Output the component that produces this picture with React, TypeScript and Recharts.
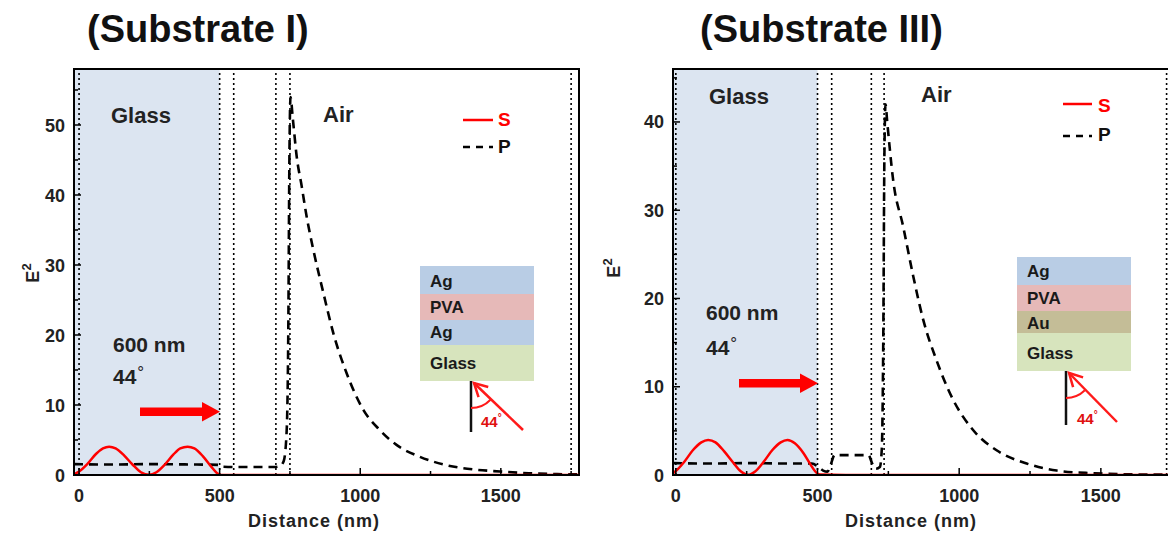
import React from 'react';
import { LineChart, Line, XAxis, YAxis, ReferenceLine, ReferenceArea } from 'recharts';

// ---------- data ----------
const sLeftX = [-18, 0, 30, 60, 85, 107, 130, 160, 190, 220, 249, 275, 305, 335, 360, 386, 410, 440, 470, 490, 505, 600, 1778];
const sLeftY = [0.1, 0.5, 1.6, 3.0, 3.8, 4.05, 3.8, 2.8, 1.5, 0.4, 0.02, 0.4, 1.5, 2.9, 3.8, 4.05, 3.8, 2.7, 1.2, 0.3, 0, 0, 0];

const pLeftX = [-18, 100, 250, 400, 495, 505, 550, 700, 715, 728, 738, 744, 748, 752, 760, 774, 792, 809, 833, 869, 904, 952, 1011, 1070, 1129, 1212, 1307, 1402, 1497, 1600, 1700, 1778];
const pLeftY = [1.55, 1.5, 1.55, 1.5, 1.45, 1.2, 1.15, 1.15, 1.3, 2.0, 6, 20, 45, 54, 51, 45.5, 41.2, 37, 32.2, 26, 20.3, 14.5, 9.3, 6.4, 4.3, 2.6, 1.4, 0.8, 0.5, 0.25, 0.12, 0.08];

const sRightX = [-10, 0, 30, 60, 90, 114, 140, 170, 200, 230, 255, 280, 310, 340, 370, 394, 420, 450, 475, 495, 510, 600, 1744];
const sRightY = [0.2, 0.45, 1.5, 2.8, 3.7, 3.97, 3.7, 2.7, 1.5, 0.4, 0.02, 0.4, 1.5, 2.8, 3.7, 3.97, 3.6, 2.5, 1.2, 0.3, 0.05, 0, 0];

const pRightX = [-10, 120, 250, 380, 480, 500, 520, 535, 547, 560, 620, 680, 693, 706, 720, 727, 732, 736, 740, 746, 767, 802, 838, 873, 920, 979, 1049, 1132, 1238, 1344, 1473, 1600, 1744];
const pRightY = [1.35, 1.3, 1.35, 1.3, 1.3, 1.0, 0.5, 0.38, 1.2, 2.25, 2.25, 2.25, 1.3, 0.7, 0.9, 3, 15, 36, 42, 40, 33.4, 28.2, 22.5, 17.6, 13, 8.5, 5.1, 2.8, 1.3, 0.5, 0.2, 0.08, 0.04];

const leftBoundaries = [0, 500, 550, 700, 750, 1750];
const rightBoundaries = [0, 500, 550, 690, 735, 1732];

const xTicks = [0, 250, 500, 750, 1000, 1250, 1500, 1750];
const xMajor = [0, 500, 1000, 1500];
const yTicksLeft = [0, 5, 10, 15, 20, 25, 30, 35, 40, 45, 50, 55];
const yTicksRight = [0, 5, 10, 15, 20, 25, 30, 35, 40, 45];
const yMajorStep = 10;

const leftXDomain: [number, number] = [-18, 1778];
const rightXDomain: [number, number] = [-10, 1744];
const leftYDomain: [number, number] = [0, 58];
const rightYDomain: [number, number] = [0, 46];

const FONT = '"Liberation Sans", Arial, Helvetica, sans-serif';

const toPts = (xs: number[], ys: number[]) => xs.map((x, i) => ({ x, v: ys[i] }));

const XTick = (props: any) => {
  const { x, y, payload } = props;
  const v = payload.value;
  const major = xMajor.includes(v);
  return (
    <g>
      <line x1={x} x2={x} y1={y} y2={y - (major ? 7 : 4)} stroke="#000" strokeWidth={1.5} />
      {major && (
        <text x={x} y={y + 27} textAnchor="middle" fontFamily={FONT} fontWeight="bold" fontSize={18} fill="#222">
          {v}
        </text>
      )}
    </g>
  );
};

const YTick = (props: any) => {
  const { x, y, payload } = props;
  const v = payload.value;
  const major = v % yMajorStep === 0;
  return (
    <g>
      <line x1={x} x2={x + (major ? 7 : 4)} y1={y} y2={y} stroke="#000" strokeWidth={1.5} />
      {major && (
        <text x={x - 9} y={y + 6.5} textAnchor="end" fontFamily={FONT} fontWeight="bold" fontSize={18} fill="#222">
          {v}
        </text>
      )}
    </g>
  );
};

type PanelProps = {
  width: number;
  marginLeft: number;
  marginRight: number;
  xDomain: [number, number];
  yDomain: [number, number];
  yTicks: number[];
  s: { x: number; v: number }[];
  p: { x: number; v: number }[];
  boundaries: number[];
};

const Panel = ({ width, marginLeft, marginRight, xDomain, yDomain, yTicks, s, p, boundaries }: PanelProps) => (
  <LineChart width={width} height={533} margin={{ top: 69, right: marginRight, bottom: 0, left: marginLeft }}>
    <XAxis
      dataKey="x"
      type="number"
      domain={xDomain}
      allowDataOverflow
      ticks={xTicks}
      interval={0}
      height={58}
      tickSize={0}
      tickMargin={0}
      tickLine={false}
      tick={<XTick />}
      axisLine={{ stroke: '#000', strokeWidth: 2 }}
    />
    <YAxis
      type="number"
      domain={yDomain}
      allowDataOverflow
      ticks={yTicks}
      interval={0}
      width={60}
      tickSize={0}
      tickMargin={0}
      tickLine={false}
      tick={<YTick />}
      axisLine={{ stroke: '#000', strokeWidth: 2 }}
    />
    <ReferenceArea x1={xDomain[0]} x2={500} y1={yDomain[0]} y2={yDomain[1]} fill="#dce5f1" fillOpacity={1} stroke="none" />
    {boundaries.map((b) => (
      <ReferenceLine key={b} x={b} stroke="#000" strokeWidth={1.6} strokeDasharray="2 3" />
    ))}
    <Line data={p} dataKey="v" type="monotone" stroke="#000" strokeWidth={2.6} strokeDasharray="9 6" dot={false} isAnimationActive={false} />
    <Line data={s} dataKey="v" type="monotone" stroke="#ff0000" strokeWidth={2.5} dot={false} isAnimationActive={false} />
    <ReferenceArea x1={xDomain[0]} x2={xDomain[1]} y1={yDomain[0]} y2={yDomain[1]} fill="none" stroke="#000" strokeWidth={2} />
  </LineChart>
);

const Inset = ({ x, y, layers, vx, vTop, vBottom, ax, ay, tx, ty }: any) => {
  let cy = y;
  const rects = layers.map((l: any, i: number) => {
    const r = (
      <g key={i}>
        <rect x={x} y={cy} width={114} height={l.h} fill={l.color} />
        <text x={x + 10} y={cy + l.base} fontFamily={FONT} fontWeight="bold" fontSize={17} fill="#1a1a1a">
          {l.label}
        </text>
      </g>
    );
    cy += l.h;
    return r;
  });
  const hx = vx + 3;
  const hy = vTop + 2;
  const dx = hx - ax;
  const dy = hy - ay;
  const len = Math.hypot(dx, dy);
  const ux = dx / len;
  const uy = dy / len;
  const hl = 13;
  const hw = 7;
  const b1x = hx - ux * hl - uy * hw;
  const b1y = hy - uy * hl + ux * hw;
  const b2x = hx - ux * hl + uy * hw;
  const b2y = hy - uy * hl - ux * hw;
  const r = 27;
  const ang = Math.atan2(-dx, -dy);
  const ex = vx + r * Math.sin(Math.abs(ang));
  const ey = vTop + r * Math.cos(Math.abs(ang));
  return (
    <g>
      {rects}
      <line x1={vx} x2={vx} y1={vTop} y2={vBottom} stroke="#111" strokeWidth={2.5} />
      <line x1={ax} y1={ay} x2={hx} y2={hy} stroke="#ff1a1a" strokeWidth={2.5} />
      <polyline points={`${b1x},${b1y} ${hx},${hy} ${b2x},${b2y}`} fill="none" stroke="#ff1a1a" strokeWidth={2.5} />
      <path d={`M ${vx} ${vTop + r} A ${r} ${r} 0 0 0 ${ex} ${ey}`} fill="none" stroke="#ff1a1a" strokeWidth={2} />
      <text x={tx} y={ty} fontFamily={FONT} fontWeight="bold" fontSize={15} fill="#e01010">
        44<tspan fontSize={10} dy={-6}>°</tspan>
      </text>
    </g>
  );
};

const Overlay = () => (
  <svg width={1168} height={533} style={{ position: 'absolute', left: 0, top: 0, pointerEvents: 'none' }}>
    <text x={87} y={42} fontFamily={FONT} fontWeight="bold" fontSize={38} fill="#111">(Substrate I)</text>
    <text x={700} y={42} fontFamily={FONT} fontWeight="bold" fontSize={38} fill="#111">(Substrate III)</text>

    <g transform="translate(39,273) rotate(-90)">
      <text x={0} y={0} textAnchor="middle" fontFamily={FONT} fontWeight="bold" fontSize={18} fill="#222">
        E<tspan fontSize={13} dy={-8}>2</tspan>
      </text>
    </g>
    <g transform="translate(620,268) rotate(-90)">
      <text x={0} y={0} textAnchor="middle" fontFamily={FONT} fontWeight="bold" fontSize={18} fill="#222">
        E<tspan fontSize={13} dy={-8}>2</tspan>
      </text>
    </g>
    <text x={314} y={527} textAnchor="middle" fontFamily={FONT} fontWeight="bold" fontSize={18} letterSpacing={1} fill="#222">Distance (nm)</text>
    <text x={911} y={527} textAnchor="middle" fontFamily={FONT} fontWeight="bold" fontSize={18} letterSpacing={1} fill="#222">Distance (nm)</text>

    <text x={111} y={123} fontFamily={FONT} fontWeight="bold" fontSize={22} fill="#222">Glass</text>
    <text x={323} y={122} fontFamily={FONT} fontWeight="bold" fontSize={22} fill="#222">Air</text>
    <text x={709} y={104} fontFamily={FONT} fontWeight="bold" fontSize={22} fill="#222">Glass</text>
    <text x={921} y={102} fontFamily={FONT} fontWeight="bold" fontSize={22} fill="#222">Air</text>

    <text x={113} y={352} fontFamily={FONT} fontWeight="bold" fontSize={21} fill="#222">600 nm</text>
    <text x={113} y={384} fontFamily={FONT} fontWeight="bold" fontSize={21} fill="#222">
      44<tspan fontWeight="normal" fontSize={17} dx={1} dy={-6}>°</tspan>
    </text>
    <text x={706} y={320} fontFamily={FONT} fontWeight="bold" fontSize={21} fill="#222">600 nm</text>
    <text x={706} y={355} fontFamily={FONT} fontWeight="bold" fontSize={21} fill="#222">
      44<tspan fontWeight="normal" fontSize={17} dx={1} dy={-6}>°</tspan>
    </text>

    <line x1={463} x2={493} y1={120} y2={120} stroke="#ff0000" strokeWidth={2.5} />
    <text x={498} y={126} fontFamily={FONT} fontWeight="bold" fontSize={19} fill="#ff0000">S</text>
    <line x1={463} x2={493} y1={147} y2={147} stroke="#000" strokeWidth={2.5} strokeDasharray="7 6" />
    <text x={498} y={153} fontFamily={FONT} fontWeight="bold" fontSize={19} fill="#111">P</text>

    <line x1={1063} x2={1092} y1={104} y2={104} stroke="#ff0000" strokeWidth={2.5} />
    <text x={1098} y={112} fontFamily={FONT} fontWeight="bold" fontSize={19} fill="#ff0000">S</text>
    <line x1={1063} x2={1092} y1={136} y2={136} stroke="#000" strokeWidth={2.5} strokeDasharray="7 6" />
    <text x={1098} y={141} fontFamily={FONT} fontWeight="bold" fontSize={19} fill="#111">P</text>

    <rect x={140} y={407.5} width={64} height={8.5} fill="#ff0000" />
    <polygon points="202,402 220,411.7 202,421.5" fill="#ff0000" />
    <rect x={739} y={379} width={63} height={8.5} fill="#ff0000" />
    <polygon points="800,373.5 818,383.2 800,393" fill="#ff0000" />

    <Inset
      x={420}
      y={266}
      layers={[
        { label: 'Ag', color: '#b9cde5', h: 28, base: 21 },
        { label: 'PVA', color: '#e6b9b8', h: 26, base: 19 },
        { label: 'Ag', color: '#b9cde5', h: 25, base: 18 },
        { label: 'Glass', color: '#d7e4bd', h: 36, base: 24 },
      ]}
      vx={471}
      vTop={381}
      vBottom={432}
      ax={523}
      ay={430}
      tx={481}
      ty={427}
    />
    <Inset
      x={1017}
      y={257}
      layers={[
        { label: 'Ag', color: '#b9cde5', h: 28, base: 20 },
        { label: 'PVA', color: '#e6b9b8', h: 26, base: 19 },
        { label: 'Au', color: '#c4bd97', h: 22, base: 18 },
        { label: 'Glass', color: '#d7e4bd', h: 38, base: 26 },
      ]}
      vx={1066}
      vTop={371}
      vBottom={425}
      ax={1117}
      ay={422}
      tx={1077}
      ty={424}
    />
  </svg>
);

export default function App() {
  return (
    <div style={{ position: 'absolute', left: 0, top: 0, width: 1168, height: 533, overflow: 'hidden', background: '#fff' }}>
      <div style={{ position: 'absolute', left: 0, top: 0 }}>
        <Panel
          width={600}
          marginLeft={14}
          marginRight={21}
          xDomain={leftXDomain}
          yDomain={leftYDomain}
          yTicks={yTicksLeft}
          s={toPts(sLeftX, sLeftY)}
          p={toPts(pLeftX, pLeftY)}
          boundaries={leftBoundaries}
        />
      </div>
      <div style={{ position: 'absolute', left: 600, top: 0 }}>
        <Panel
          width={570}
          marginLeft={13}
          marginRight={0}
          xDomain={rightXDomain}
          yDomain={rightYDomain}
          yTicks={yTicksRight}
          s={toPts(sRightX, sRightY)}
          p={toPts(pRightX, pRightY)}
          boundaries={rightBoundaries}
        />
      </div>
      <Overlay />
    </div>
  );
}
